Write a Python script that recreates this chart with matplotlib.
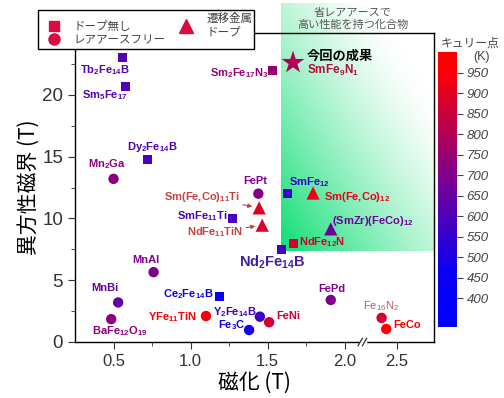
import numpy as np
import matplotlib
matplotlib.use('Agg')
import matplotlib.pyplot as plt
from matplotlib.colors import LinearSegmentedColormap, Normalize
from matplotlib.cm import ScalarMappable
from matplotlib.lines import Line2D

plt.rcParams['font.family'] = ['Liberation Sans', 'Noto Sans CJK JP', 'DejaVu Sans']
plt.rcParams['mathtext.default'] = 'regular'

# ---- data ----
names = ['Tb$_2$Fe$_{14}$B', 'Sm$_5$Fe$_{17}$', 'Sm$_2$Fe$_{17}$N$_3$', 'Dy$_2$Fe$_{14}$B',
         'Mn$_2$Ga', 'FePt', 'Sm(Fe,Co)$_{11}$Ti', 'SmFe$_{11}$Ti', 'NdFe$_{11}$TiN',
         'SmFe$_{12}$', 'Sm(Fe,Co)$_{12}$', '(SmZr)(FeCo)$_{12}$', 'NdFe$_{12}$N',
         'Nd$_2$Fe$_{14}$B', 'MnAl', 'MnBi', 'BaFe$_{12}$O$_{19}$', 'Ce$_2$Fe$_{14}$B',
         'YFe$_{11}$TiN', 'Fe$_3$C', 'Y$_2$Fe$_{14}$B', 'FeNi', 'FePd', 'Fe$_{16}$N$_2$', 'FeCo']
magnetization = [0.56, 0.58, 1.53, 0.72, 0.50, 1.44, 1.445, 1.27, 1.465, 1.63, 1.795, 1.91, 1.67,
                 1.59, 0.76, 0.53, 0.485, 1.185, 1.10, 1.38, 1.45, 1.51, 1.91, 2.40, 2.43]
aniso_field = [23.0, 20.7, 22.0, 14.8, 13.2, 12.0, 10.85, 10.0, 9.45, 12.05, 12.05, 9.15, 8.0,
               7.5, 5.65, 3.2, 1.85, 3.65, 2.1, 0.97, 2.05, 1.6, 3.4, 1.95, 1.05]
curie = [620, 610, 750, 598, 720, 700, 900, 584, 880, 555, 920, 670, 870,
         585, 700, 650, 720, 424, 940, 480, 565, 870, 700, 870, 1000]
kind = ['sq', 'sq', 'sq', 'sq', 'ci', 'ci', 'tr', 'sq', 'tr', 'sq', 'tr', 'tr', 'sq',
        'sq', 'ci', 'ci', 'ci', 'sq', 'ci', 'ci', 'ci', 'ci', 'ci', 'ci', 'ci']

star_name = 'SmFe$_9$N$_1$'
star_mag, star_hk, star_tc = 1.665, 22.6, 800

# green region (rare-earth saving, high performance)
region_x0, region_y0 = 1.59, 7.37

cbar_ticks = list(range(400, 1000, 50))

# ---- label layout (offset in pixels, alignment) ----
label_pos = {
    0: (-18, -12, 'center'), 1: (-21, -9, 'center'), 2: (-4, -3, 'right'),
    3: (5, 12, 'center'), 4: (-7, 15, 'center'), 5: (-3, 13, 'center'),
    6: (-19, 11, 'right'), 7: (-5, 2, 'right'), 8: (-19, -7, 'right'),
    9: (1, 11, 'left'), 10: (11, -4, 'left'), 11: (1, 8, 'left'),
    12: (5, 1, 'left'), 13: (-9, -13, 'center'), 14: (-8, 12, 'center'),
    15: (-13, 14, 'center'), 16: (8, -12, 'center'), 17: (-6, 3, 'right'),
    18: (-9, -1, 'right'), 19: (-4, 5, 'right'), 20: (-3, 5, 'right'),
    21: (7, 6, 'left'), 22: (1, 11, 'center'), 23: (-1, 12, 'center'),
    24: (7, 4, 'left'),
}

# colormap matching the bar: blue -> purple -> red
vmin, vmax = 330, 1000
nodes = [(330, (0, 0, 1)), (470, (0.05, 0, 0.95)), (700, (0.5, 0, 0.55)),
         (960, (1, 0, 0)), (1000, (1, 0, 0))]
cmap = LinearSegmentedColormap.from_list(
    'curie', [((t - vmin) / (vmax - vmin), c) for t, c in nodes])
norm = Normalize(vmin, vmax)

# broken x axis
BRK, GAP = 2.12, 0.16


def fwd(x):
    x = np.asarray(x, float)
    return np.where(x <= BRK, x, np.where(x < BRK + GAP, BRK, x - GAP))


def inv(y):
    y = np.asarray(y, float)
    return np.where(y <= BRK, y, y + GAP)


W, H = 504, 398
fig = plt.figure(figsize=(W / 100, H / 100), dpi=100)


def fx(px):
    return px / W


def fy(py):
    return 1 - py / H


ax = fig.add_axes([fx(75), fy(342), fx(434) - fx(75), fy(33) - fy(342)])
ax.set_xscale('function', functions=(fwd, inv))
ax.set_xlim(0.25, 2.74)
ax.set_ylim(0, 25)
ax.set_autoscale_on(False)

# gradient region
p0 = ax.transAxes.inverted().transform(ax.transData.transform((region_x0, region_y0)))
top_frac = (342 - 3) / (342 - 33)
u, v = np.meshgrid(np.linspace(0, 1, 200), np.linspace(0, 1, 200))
a = np.clip(1 - (u + v) / 1.6, 0, 1) ** 1.3
green = np.array([0.05, 0.87, 0.45])
img = 1 - a[..., None] * (1 - green)
ax.imshow(img, origin='lower', extent=(p0[0], 1, p0[1], top_frac), transform=ax.transAxes,
          aspect='auto', clip_on=False, zorder=0, interpolation='bilinear')
ax.set_xlim(0.25, 2.74)
ax.set_ylim(0, 25)

fig.text(fx(353), fy(13), '省レアアースで', ha='center', va='center', fontsize=8,
         color='#555555', style='italic')
fig.text(fx(353), fy(25), '高い性能を持つ化合物', ha='center', va='center', fontsize=8,
         color='#555555', style='italic')

# points
markers = {'sq': ('s', 42), 'ci': ('o', 56), 'tr': ('^', 90)}
mag = np.array(magnetization)
hk = np.array(aniso_field)
tc = np.array(curie)
kd = np.array(kind)
for k, (m, s) in markers.items():
    sel = kd == k
    ax.scatter(mag[sel], hk[sel], c=tc[sel], cmap=cmap, norm=norm, marker=m, s=s,
               edgecolors='none', zorder=3, clip_on=False)
ax.scatter([star_mag], [star_hk], c=[star_tc], cmap=cmap, norm=norm, marker='*', s=300,
           edgecolors='none', zorder=3)

label_color_override = {6: (0.78, 0.25, 0.25), 8: (0.78, 0.25, 0.25), 23: (0.75, 0.35, 0.45),
                        13: (0.28, 0.12, 0.62)}
for i, nm in enumerate(names):
    dx, dy, ha = label_pos[i]
    col = label_color_override.get(i, cmap(norm(curie[i])))
    size = 10.5 if i == 13 else 8
    weight = 'normal' if i == 23 else 'bold'
    arrow = None
    if i in (6, 8):
        arrow = dict(arrowstyle='-|>', color=col, lw=0.8, mutation_scale=6,
                     shrinkA=0, shrinkB=5)
    ax.annotate(nm, (magnetization[i], aniso_field[i]), xytext=(dx, dy),
                textcoords='offset pixels', ha=ha, va='center', fontsize=size,
                fontweight=weight, color=col, arrowprops=arrow, zorder=4)

ax.annotate('今回の成果', (star_mag, star_hk), xytext=(14, 7), textcoords='offset pixels',
            ha='left', va='center', fontsize=9.5, fontweight='bold', color='black',
            family=['Noto Sans CJK JP'])
ax.annotate(star_name, (star_mag, star_hk), xytext=(14, -8), textcoords='offset pixels',
            ha='left', va='center', fontsize=8.5, fontweight='bold', color=(0.7, 0.05, 0.25))

# axes styling
ax.set_xticks([0.5, 1.0, 1.5, 2.0, 2.5])
ax.set_xticklabels(['0.5', '1.0', '1.5', '2.0', '2.5'])
ax.set_xticks([0.75, 1.25, 1.75], minor=True)
ax.set_yticks([0, 5, 10, 15, 20])
ax.set_yticks(np.arange(2.5, 25, 5), minor=True)
ax.tick_params(axis='x', which='major', labelsize=12, length=5, colors='#333333')
ax.tick_params(axis='y', which='major', labelsize=13.5, length=5, colors='#333333')
ax.tick_params(which='minor', length=3, colors='#333333')
for sp in ax.spines.values():
    sp.set_linewidth(1.0)
ax.set_xlabel('磁化 (T)', fontsize=15, family=['Noto Sans CJK JP', 'DejaVu Sans'], labelpad=2)
ax.set_ylabel('異方性磁界 (T)', fontsize=15, family=['Noto Sans CJK JP', 'DejaVu Sans'],
              labelpad=2)

# axis break marks
bx = ax.transAxes.inverted().transform(ax.transData.transform((BRK, 0)))[0]
ax.plot([bx - 0.006, bx + 0.006], [0, 0], color='white', lw=2.5, transform=ax.transAxes,
        clip_on=False, zorder=5)
for off in (-0.008, 0.004):
    ax.plot([bx + off - 0.006, bx + off + 0.006], [-0.012, 0.012], color='#333333', lw=0.9,
            transform=ax.transAxes, clip_on=False, zorder=6)

# legend
lc = (0.85, 0.05, 0.25)
handles = [Line2D([], [], marker='s', color=lc, ls='none', markersize=7),
           Line2D([], [], marker='o', color=lc, ls='none', markersize=8),
           Line2D([], [], marker='^', color=lc, ls='none', markersize=10)]
labels = ['ドープ無し', 'レアアースフリー', '遷移金属\nドープ']
leg = fig.legend(handles, labels, loc='upper left', ncol=2,
                 bbox_to_anchor=(fx(38), fy(10)),
                 fancybox=False, edgecolor='black', framealpha=1,
                 prop={'family': 'Noto Sans CJK JP', 'size': 8.3}, labelspacing=0.0,
                 handletextpad=0.5, borderpad=0.2, handlelength=2.4, columnspacing=0.6,
                 borderaxespad=0)
leg.get_frame().set_linewidth(1.0)
for t in leg.get_texts():
    t.set_color('#444444')
    t.set_linespacing(1.0)

# colorbar
cax = fig.add_axes([fx(438), fy(327), fx(457) - fx(438), fy(52) - fy(327)])
sm = ScalarMappable(norm=norm, cmap=cmap)
cb = fig.colorbar(sm, cax=cax, ticks=cbar_ticks)
cb.outline.set_visible(False)
cax.tick_params(length=4, width=0.8, colors='#444444', labelsize=9.5, pad=3)
for t in cax.get_yticklabels():
    t.set_style('italic')
fig.text(fx(470), fy(43), 'キュリー点', ha='center', va='center', fontsize=8.5,
         color='#444444', family=['Noto Sans CJK JP'])
fig.text(fx(481), fy(57), '(K)', ha='center', va='center', fontsize=9, color='#444444')

fig.savefig('out.png', dpi=100)
